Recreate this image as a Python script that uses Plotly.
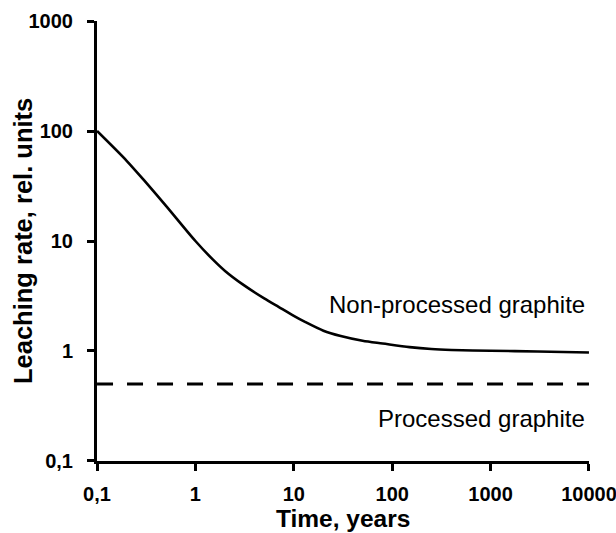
import plotly.graph_objects as go

# Data
time_years = [0.1, 0.2, 0.3, 0.5, 1, 1.5, 2, 3, 5, 7, 10, 13, 20, 30, 50, 80, 150, 250, 400, 1000, 3000, 10000]
rate_nonprocessed = [100, 53.6, 35.7, 21.0, 10, 6.8, 5.34, 4.05, 3.01, 2.52, 2.09, 1.84, 1.53, 1.37, 1.24,
                     1.17, 1.085, 1.042, 1.022, 1.004, 0.99, 0.97]
time_processed = [0.1, 10000]
rate_processed = [0.5, 0.5]

x_tickvals = [0.1, 1, 10, 100, 1000, 10000]
x_ticktext = ["0,1", "1", "10", "100", "1000", "10000"]
y_tickvals = [0.1, 1, 10, 100, 1000]
y_ticktext = ["0,1", "1", "10", "100", "1000"]

tick_font = dict(family="Liberation Sans, Arial", size=20, color="black", weight="bold")
title_font = dict(family="Liberation Sans, Arial", size=24.5, color="black", weight="bold")
text_font = dict(family="Liberation Sans, Arial", size=24, color="black")

fig = go.Figure()
fig.add_trace(go.Scatter(x=time_years, y=rate_nonprocessed, mode="lines",
                         line=dict(color="black", width=2.6, shape="spline", smoothing=0.8),
                         showlegend=False, hoverinfo="skip"))
fig.add_trace(go.Scatter(x=time_processed, y=rate_processed, mode="lines",
                         line=dict(color="black", width=3, dash="16px,14px"),
                         showlegend=False, hoverinfo="skip"))

fig.update_layout(
    width=616, height=533,
    margin=dict(l=97, r=27, t=21, b=72, pad=0),
    paper_bgcolor="white", plot_bgcolor="white",
    xaxis=dict(type="log", range=[-1.0003, 4.0003], tickvals=x_tickvals, ticktext=x_ticktext,
               showgrid=False, zeroline=False, showline=True, linecolor="black", linewidth=3,
               ticks="outside", ticklen=7, tickwidth=3, tickcolor="black", automargin=False,
               tickfont=tick_font, ticklabelstandoff=6, ticklabeloverflow="allow"),
    yaxis=dict(type="log", range=[-1.0003, 3.0003], tickvals=y_tickvals, ticktext=y_ticktext,
               showgrid=False, zeroline=False, showline=True, linecolor="black", linewidth=3,
               ticks="outside", ticklen=7, tickwidth=3, tickcolor="black", automargin=False,
               tickfont=tick_font, ticklabelstandoff=10, ticklabeloverflow="allow"),
    annotations=[
        dict(text="Time, years", xref="paper", yref="paper", x=0.5, y=0, yshift=-57,
             xanchor="center", yanchor="middle", showarrow=False, font=title_font),
        dict(text="Leaching rate, rel. units", xref="paper", yref="paper", x=0, xshift=-74,
             y=0.5, xanchor="center", yanchor="middle", textangle=-90, showarrow=False,
             font=dict(title_font, size=25.5)),
        dict(text="Non-processed graphite", xref="x", yref="y", x=4, y=0.426, xshift=-2,
             xanchor="right", yanchor="middle", showarrow=False, font=text_font),
        dict(text="Processed graphite", xref="x", yref="y", x=4, y=-0.617, xshift=-2,
             xanchor="right", yanchor="middle", showarrow=False, font=text_font),
    ],
)

fig.write_html("out.html")
